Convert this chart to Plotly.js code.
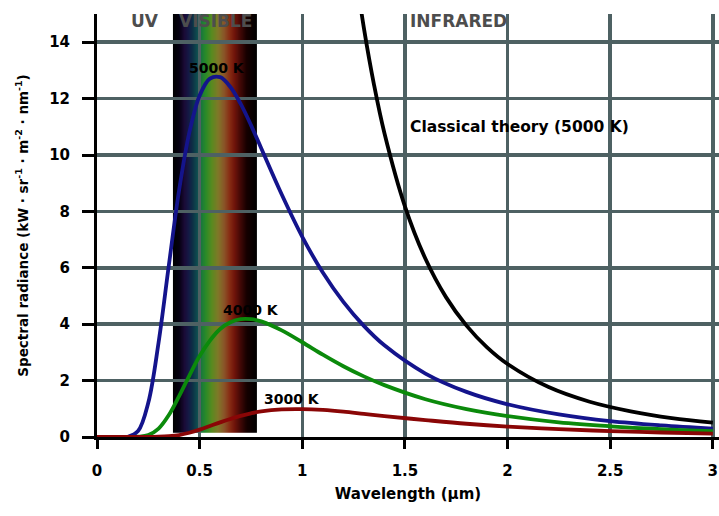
<!DOCTYPE html>
<html>
<head>
<meta charset="utf-8">
<script src="https://cdn.plot.ly/plotly-3.0.1.min.js"></script>
<style>html,body{margin:0;padding:0;background:#fff;}#chart{width:719px;height:516px;}</style>
</head>
<body>
<div id="chart"></div>
<script>
// Wavelength samples (μm) and spectral radiance (kW·sr⁻¹·m⁻²·nm⁻¹)
var wavelength = [0, 0.1, 0.15, 0.2, 0.25, 0.3, 0.35, 0.4, 0.45, 0.5, 0.55, 0.6, 0.65, 0.7, 0.75, 0.8, 0.9, 1.0, 1.1, 1.2, 1.3, 1.4, 1.6, 1.8, 2.0, 2.25, 2.5, 2.75, 3.0];
var radiance5000 = [0, 0, 0.01, 0.21, 1.22, 3.35, 6.09, 8.75, 10.8, 12.11, 12.71, 12.76, 12.41, 11.81, 11.06, 10.24, 8.60, 7.10, 5.83, 4.79, 3.94, 3.25, 2.25, 1.60, 1.16, 0.80, 0.56, 0.41, 0.30];
var radiance4000 = [0, 0, 0, 0.01, 0.07, 0.30, 0.78, 1.45, 2.18, 2.87, 3.42, 3.83, 4.07, 4.18, 4.18, 4.10, 3.78, 3.36, 2.92, 2.51, 2.15, 1.84, 1.34, 0.99, 0.74, 0.52, 0.38, 0.28, 0.21];
var radiance3000 = [0, 0, 0, 0, 0, 0.01, 0.03, 0.07, 0.15, 0.26, 0.39, 0.52, 0.64, 0.75, 0.84, 0.91, 0.98, 0.99, 0.96, 0.90, 0.82, 0.74, 0.60, 0.47, 0.37, 0.28, 0.21, 0.16, 0.12];
var classicalWavelength = [1.25, 1.3, 1.35, 1.4, 1.5, 1.6, 1.7, 1.8, 1.9, 2.0, 2.2, 2.4, 2.6, 2.8, 3.0];
var classical5000 = [16.97, 14.51, 12.47, 10.78, 8.18, 6.32, 4.96, 3.95, 3.18, 2.59, 1.77, 1.25, 0.91, 0.67, 0.51];

// Visible band colour stops (wavelength μm, colour)
var bandWavelength = [0.370, 0.400, 0.425, 0.445, 0.465, 0.490, 0.510, 0.530, 0.560, 0.590, 0.620, 0.645, 0.670, 0.700, 0.730, 0.779];
var bandColor = ['#000000', '#050010', '#1a0a35', '#151845', '#0d2f45', '#0e5050', '#1a7a3a', '#2a8a28', '#5a8a20', '#807828', '#8a5428', '#882e14', '#70140a', '#400806', '#150000', '#000000'];
var bandBottom = 0.15, bandTop = 15;

var xTickVals = [0, 0.5, 1, 1.5, 2, 2.5, 3];
var xTickText = ['0', '0.5', '1', '1.5', '2', '2.5', '3'];
var yTickVals = [0, 2, 4, 6, 8, 10, 12, 14];

var curveLabels = [
  {text: '5000 K', x: 0.585, y: 13.1, size: 14},
  {text: '4000 K', x: 0.75, y: 4.5, size: 14},
  {text: '3000 K', x: 0.95, y: 1.35, size: 14},
  {text: 'Classical theory (5000 K)', x: 2.06, y: 11.0, size: 15.5}
];
var regionLabels = [
  {text: 'UV', x: 0.234},
  {text: 'VISIBLE', x: 0.575},
  {text: 'INFRARED', x: 1.76}
];

// Build the gradient image for the visible band
var bMin = bandWavelength[0], bMax = bandWavelength[bandWavelength.length - 1];
var cv = document.createElement('canvas');
cv.width = 400; cv.height = 2;
var ctx = cv.getContext('2d');
var grad = ctx.createLinearGradient(0, 0, cv.width, 0);
for (var i = 0; i < bandWavelength.length; i++) {
  grad.addColorStop((bandWavelength[i] - bMin) / (bMax - bMin), bandColor[i]);
}
ctx.fillStyle = grad;
ctx.fillRect(0, 0, cv.width, cv.height);
var bandImg = cv.toDataURL('image/png');

var FONT = 'DejaVu Sans, Liberation Sans, sans-serif';

var traces = [
  {x: wavelength, y: radiance5000, mode: 'lines', line: {color: '#14148c', width: 3.8, shape: 'spline'}, name: '5000 K'},
  {x: wavelength, y: radiance4000, mode: 'lines', line: {color: '#0b8a0b', width: 3.8, shape: 'spline'}, name: '4000 K'},
  {x: wavelength, y: radiance3000, mode: 'lines', line: {color: '#8a0606', width: 3.8, shape: 'spline'}, name: '3000 K'},
  {x: classicalWavelength, y: classical5000, mode: 'lines', line: {color: '#000000', width: 3.8, shape: 'spline'}, name: 'Classical theory'}
];

var annotations = [];
curveLabels.forEach(function (c) {
  annotations.push({x: c.x, y: c.y, xref: 'x', yref: 'y', text: c.text, showarrow: false,
    font: {family: FONT, size: c.size, color: '#000', weight: 'bold'}});
});
regionLabels.forEach(function (r) {
  annotations.push({x: r.x, y: 1.012, xref: 'x', yref: 'paper', text: r.text, showarrow: false,
    font: {family: FONT, size: 17, color: '#4d4d4d', weight: 'bold'}});
});

var layout = {
  width: 719, height: 516,
  margin: {l: 97, r: 0, t: 14, b: 79},
  paper_bgcolor: '#ffffff', plot_bgcolor: '#ffffff',
  showlegend: false,
  font: {family: FONT, color: '#000'},
  xaxis: {
    range: [0, 3.03], tickvals: xTickVals, ticktext: xTickText,
    showgrid: true, gridcolor: '#4e6163', gridwidth: 3.5, zeroline: false,
    showline: true, linecolor: '#000', linewidth: 3,
    ticks: 'outside', ticklen: 9, tickwidth: 3, tickcolor: '#000',
    ticklabelstandoff: 9,
    tickfont: {family: FONT, size: 15, color: '#000', weight: 'bold'},
    title: {text: 'Wavelength (μm)', font: {family: FONT, size: 15, color: '#000', weight: 'bold'}, standoff: 10}
  },
  yaxis: {
    range: [0, 15], tickvals: yTickVals,
    showgrid: true, gridcolor: '#4e6163', gridwidth: 3.5, zeroline: false,
    showline: true, linecolor: '#000', linewidth: 3,
    ticks: 'outside', ticklen: 12, tickwidth: 3, tickcolor: '#000',
    ticklabelstandoff: 9,
    tickfont: {family: FONT, size: 15, color: '#000', weight: 'bold'},
    title: {text: 'Spectral radiance (kW · sr<sup>-1</sup> · m<sup>-2</sup> · nm<sup>-1</sup>)', font: {family: FONT, size: 13.5, color: '#000', weight: 'bold'}, standoff: 18}
  },
  images: [{
    source: bandImg, xref: 'x', yref: 'y',
    x: bMin, y: bandTop, sizex: bMax - bMin, sizey: bandTop - bandBottom,
    xanchor: 'left', yanchor: 'top', sizing: 'stretch', layer: 'below'
  }],
  annotations: annotations
};

Plotly.newPlot('chart', traces, layout, {displayModeBar: false, staticPlot: true});
</script>
</body>
</html>
